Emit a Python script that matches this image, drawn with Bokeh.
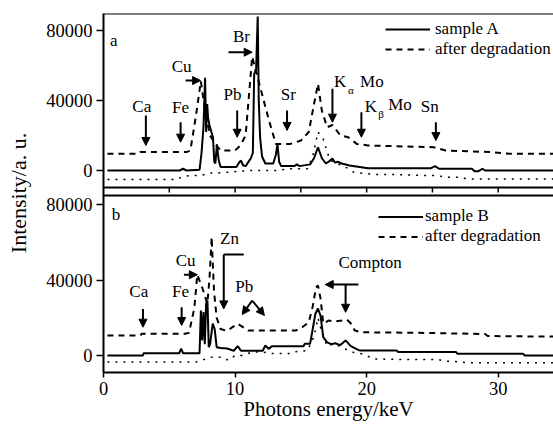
from bokeh.plotting import figure
from bokeh.models import Range1d, FixedTicker, Span, Arrow, NormalHead, Legend, LegendItem
from bokeh.core.properties import value
from bokeh.embed import file_html
from bokeh.resources import INLINE

FONT = "Liberation Serif"

# ---------------- data ----------------
# panel a : sample A (solid)
a_x = [0.3, 3.0, 5.8, 6.05, 6.3, 7.3, 7.45, 7.6, 7.72, 7.8, 7.88, 7.95, 8.05, 8.2, 8.32, 8.42,
       8.5, 8.62, 8.75, 8.9, 10.1, 10.3, 10.45, 10.6, 10.8, 11.2, 11.35, 11.45, 11.6, 11.72,
       11.8, 11.9, 12.05, 12.3, 12.9, 13.1, 13.22, 13.35, 13.5, 14.5, 14.7, 14.9, 15.7, 16.0,
       16.3, 16.6, 16.9, 17.2, 17.4, 17.6, 17.8, 18.1, 18.7, 20.1, 24.9, 25.2, 25.5, 28.0,
       28.2, 28.5, 28.8, 29.0, 34.2]
a_y = [0, 0, 0, 1000, 0, 400, 10000, 25000, 53000, 22000, 38000, 30000, 26000, 22000, 19000, 5000,
       4000, 15000, 6000, 2000, 2000, 4500, 5700, 3000, 2500, 7000, 10000, 55000, 58000, 88000,
       40000, 19000, 8000, 4000, 4000, 9000, 15000, 5000, 2500, 2500, 3500, 2500, 3500, 7000,
       13300, 7000, 4000, 5500, 6800, 4500, 5000, 4000, 2900, 1300, 1300, 2500, 1000, 1000,
       -400, -400, 1000, 0, 0]
# panel a : after degradation (dashed)
ad_x = [0.3, 2.6, 2.8, 6.3, 6.6, 7.0, 7.4, 7.76, 8.1, 8.5, 8.9, 10.0, 10.4, 10.8, 11.3, 12.0,
        12.6, 13.1, 13.3, 14.2, 15.0, 15.6, 16.0, 16.3, 16.6, 17.0, 17.4, 18.0, 18.6, 19.25,
        20.1, 25.1, 26.0, 29.5, 31.0, 34.2]
ad_y = [9500, 9500, 10500, 10500, 11400, 30000, 51000, 32000, 20000, 15200, 11400, 11400, 14300,
        20000, 65000, 45000, 28000, 15200, 15200, 15200, 17100, 22000, 38000, 49500, 34000,
        24700, 26000, 20000, 19000, 15200, 14300, 13300, 11400, 10500, 9500, 9500]
# panel a : lower dotted trace
at_x = [0.3, 5.6, 5.9, 6.5, 7.4, 8.0, 8.6, 10.2, 11.1, 13.1, 14.2, 15.5, 15.9, 16.3, 16.7, 17.2,
        17.8, 18.5, 19.0, 20.6, 22.3, 24.4, 25.4, 25.9, 26.9, 27.7, 34.2]
at_y = [-5100, -5100, -3800, -2900, -2900, -1500, -1500, -500, 0, 0, 1000, 1000, 8000, 22000,
        18000, 6000, 3800, 1500, -1000, -2300, -2300, -2900, -2900, -3800, -3800, -4800, -4800]

# panel b : sample B (solid)
b_x = [0.3, 3.0, 3.05, 5.75, 5.9, 6.05, 7.3, 7.4, 7.5, 7.6, 7.7, 7.8, 7.9, 8.0, 8.1, 8.3, 8.45,
       8.6, 8.9, 9.4, 9.9, 10.2, 10.45, 12.1, 12.3, 12.55, 12.8, 15.2, 15.3, 15.7, 15.85, 16.1,
       16.3, 16.5, 16.7, 17.0, 17.3, 17.6, 18.0, 18.4, 18.8, 19.2, 19.5, 22.3, 22.4, 26.8, 26.9,
       31.9, 32.0, 34.2]
b_y = [0, 0, 1200, 1200, 3600, 1200, 1200, 23800, 8000, 23000, 6000, 27500, 29000, 4400, 6000,
       16900, 14000, 4400, 4000, 3700, 2500, 5000, 2500, 2500, 5300, 3500, 4900, 4900, 6200,
       6200, 12000, 22000, 24900, 21000, 9700, 7000, 6000, 6500, 5500, 8000, 5000, 3500, 2600,
       2600, 1800, 1800, 900, 900, 0, 0]
# panel b : after degradation (dashed)
bd_x = [0.3, 2.8, 2.9, 6.2, 6.5, 6.9, 7.13, 7.5, 7.89, 8.05, 8.22, 8.4, 8.6, 8.9, 9.4, 9.8, 10.2,
        10.6, 11.0, 14.6, 15.1, 15.6, 15.9, 16.15, 16.3, 16.5, 16.7, 17.1, 17.6, 18.1, 18.5,
        18.8, 19.1, 19.6, 24.0, 29.0, 29.2, 34.2]
bd_y = [10600, 10600, 11500, 11500, 12000, 25000, 42800, 36000, 27500, 40000, 62700, 34000,
        20000, 14000, 13000, 15000, 16800, 15000, 13200, 13200, 15000, 17600, 26000, 36000,
        37100, 30000, 17000, 18500, 18000, 18500, 19000, 17000, 13200, 12300, 12000, 11400,
        10300, 10000]
# panel b : lower dotted trace
bt_x = [0.3, 7.0, 7.4, 8.2, 9.0, 9.5, 10.0, 10.5, 11.3, 12.1, 12.8, 14.1, 14.6, 15.5, 16.0,
        16.3, 16.6, 17.0, 17.5, 18.2, 18.9, 19.6, 20.6, 22.6, 23.9, 25.4, 25.9, 26.5, 27.7, 34.2]
bt_y = [-3500, -3500, -2600, -900, -900, -2600, 0, 0, 1800, 1800, 1000, 1000, 2000, 2600, 10000,
        20000, 12000, 5000, 6200, 4000, 1800, 900, -1800, -2100, -2100, -2100, -3000, -3000,
        -3900, -3900]

x_ticks = [0, 10, 20, 30]
sep_ticks = [5, 10, 15, 20, 25, 30]
y_ticks = [0, 40000, 80000]
y_tick_labels = ["0", "40000", "80000"]

# annotations (text, keV, intensity)
top_labels = [("a", 0.79, 74300), ("Ca", 2.91, 36600), ("Fe", 5.86, 36000), ("Cu", 5.94, 59400),
              ("Pb", 9.8, 43400), ("Br", 10.48, 76600), ("Sr", 14.05, 43400), ("K", 17.98, 50900),
              ("Mo", 20.4, 50900), ("K", 20.33, 36600), ("Mo", 22.53, 37700), ("Sn", 24.8, 36600)]
top_subs = [("α", 18.8, 45800), ("β", 21.1, 32200)]
top_arrows = [(3.22, 31400, 3.22, 14300), (5.86, 27600, 5.86, 16200), (6.24, 51400, 7.38, 51400),
              (10.16, 34300, 10.16, 19000), (9.5, 67600, 11.3, 67600), (13.95, 34300, 13.95, 22900),
              (17.4, 46700, 17.4, 27600), (19.6, 33300, 19.6, 19000), (25.26, 27600, 25.26, 17100)]
bot_labels = [("b", 0.95, 74700), ("Ca", 2.68, 33900), ("Fe", 5.86, 33900), ("Cu", 6.24, 50300),
              ("Zn", 9.58, 62000), ("Pb", 10.7, 36600), ("Compton", 20.26, 49300)]
bot_arrows = [(3.0, 24700, 3.0, 15000), (5.94, 25600, 5.94, 15900), (6.11, 42800, 7.13, 42800),
              (9.14, 53500, 9.14, 24700), (11.3, 29100, 10.54, 21700), (11.3, 29100, 12.23, 21200),
              (19.37, 37600, 16.85, 37600), (18.4, 37600, 18.4, 22900)]
bot_bars = [(9.14, 53500, 10.66, 53500)]

# ---------------- layout ----------------
TOP_RANGE = (-115429, 89714)
BOT_RANGE = (-9007, 181192)
TOP_PANEL_BOTTOM = -9714
BOT_PANEL_TOP = 84768
FRAME_H = 359
INK = "black"

p = figure(width=553, height=424, x_range=Range1d(0, 34.2), y_range=Range1d(*TOP_RANGE),
           output_backend="svg", toolbar_location=None,
           min_border_left=103, min_border_right=0, min_border_top=13, min_border_bottom=52)
p.extra_y_ranges = {"bot": Range1d(*BOT_RANGE)}
p.grid.visible = False
p.outline_line_color = None
p.background_fill_color = "white"
p.border_fill_color = "white"


def bot_to_top(v):
    return TOP_RANGE[0] + (v - BOT_RANGE[0]) * (TOP_RANGE[1] - TOP_RANGE[0]) / (BOT_RANGE[1] - BOT_RANGE[0])


ticks_all = list(y_ticks) + [round(bot_to_top(v)) for v in y_ticks]
overrides = {}
for t, lab in zip(ticks_all, y_tick_labels + y_tick_labels):
    overrides[t] = lab

ya = p.yaxis[0]
ya.ticker = FixedTicker(ticks=ticks_all)
ya.major_label_overrides = overrides
ya.major_tick_out = 7
ya.major_tick_in = 0
ya.minor_tick_line_color = None
ya.axis_line_width = 2
ya.axis_line_color = INK
ya.major_tick_line_width = 1.5
ya.major_tick_line_color = INK
ya.major_label_text_font = FONT
ya.major_label_text_font_size = "18.5px"
ya.major_label_text_color = INK
ya.major_label_standoff = 4
ya.axis_label = "Intensity/a. u."
ya.axis_label_text_font = FONT
ya.axis_label_text_font_size = "22px"
ya.axis_label_text_font_style = "normal"
ya.axis_label_text_color = INK
ya.axis_label_standoff = 12

xa = p.xaxis[0]
xa.ticker = FixedTicker(ticks=x_ticks)
xa.major_tick_out = 5
xa.major_tick_in = 0
xa.minor_tick_line_color = None
xa.axis_line_width = 2
xa.axis_line_color = INK
xa.major_tick_line_width = 1.5
xa.major_tick_line_color = INK
xa.major_label_text_font = FONT
xa.major_label_text_font_size = "18.5px"
xa.major_label_text_color = INK
xa.major_label_standoff = 4
xa.axis_label = "Photons energy/keV"
xa.axis_label_text_font = FONT
xa.axis_label_text_font_size = "21px"
xa.axis_label_text_font_style = "normal"
xa.axis_label_text_color = INK
xa.axis_label_standoff = -1

# frame top and the double separator
p.add_layout(Span(location=TOP_RANGE[1], dimension="width", line_color=INK, line_width=2))
p.add_layout(Span(location=TOP_PANEL_BOTTOM, dimension="width", line_color=INK, line_width=2))
p.add_layout(Span(location=BOT_PANEL_TOP, dimension="width", line_color=INK, line_width=2,
                  y_range_name="bot"))
tick_len = 5 * (TOP_RANGE[1] - TOP_RANGE[0]) / FRAME_H
p.segment(x0=sep_ticks, y0=[TOP_PANEL_BOTTOM] * len(sep_ticks), x1=sep_ticks,
          y1=[TOP_PANEL_BOTTOM - tick_len] * len(sep_ticks), line_color=INK, line_width=1.5)

# spectra
ra = p.line(a_x, a_y, line_color=INK, line_width=2)
rad = p.line(ad_x, ad_y, line_color=INK, line_width=2, line_dash="6 5")
p.line(at_x, at_y, line_color=INK, line_width=1.5, line_dash="2 6")
rb = p.line(b_x, b_y, line_color=INK, line_width=2, y_range_name="bot")
rbd = p.line(bd_x, bd_y, line_color=INK, line_width=2, line_dash="6 5", y_range_name="bot")
p.line(bt_x, bt_y, line_color=INK, line_width=1.5, line_dash="2 6", y_range_name="bot")


def add_texts(items, size, rng=None):
    kw = {} if rng is None else {"y_range_name": rng}
    p.text(x=[i[1] for i in items], y=[i[2] for i in items], text=[i[0] for i in items],
           text_font=value(FONT), text_font_size=size, text_align="center",
           text_baseline="middle", text_color=INK, **kw)


add_texts(top_labels, "17px")
add_texts(top_subs, "11px")
add_texts(bot_labels, "17px", "bot")


def add_arrows(items, rng="default", head=True):
    for x0, y0, x1, y1 in items:
        end = NormalHead(size=8, fill_color=INK, line_color=INK, line_width=1) if head else None
        p.add_layout(Arrow(x_start=x0, y_start=y0, x_end=x1, y_end=y1, end=end,
                           line_color=INK, line_width=2, y_range_name=rng))


add_arrows(top_arrows)
add_arrows(bot_arrows, "bot")
add_arrows(bot_bars, "bot", head=False)

# legends
leg_a = Legend(items=[LegendItem(label="sample A", renderers=[ra]),
                      LegendItem(label="after degradation", renderers=[rad])],
               location=(282, 313), glyph_width=45, glyph_height=18, label_height=18,
               label_standoff=5, padding=0, spacing=0, margin=0,
               border_line_color=None, background_fill_alpha=0,
               label_text_font=FONT, label_text_font_size="17px", label_text_color=INK)
leg_b = Legend(items=[LegendItem(label="sample B", renderers=[rb]),
                      LegendItem(label="after degradation", renderers=[rbd])],
               location=(275, 126), glyph_width=45, glyph_height=19, label_height=19,
               label_standoff=2, padding=0, spacing=0, margin=0,
               border_line_color=None, background_fill_alpha=0,
               label_text_font=FONT, label_text_font_size="17px", label_text_color=INK)
p.add_layout(leg_a)
p.add_layout(leg_b)

open("out.html", "w").write(file_html(p, INLINE))
